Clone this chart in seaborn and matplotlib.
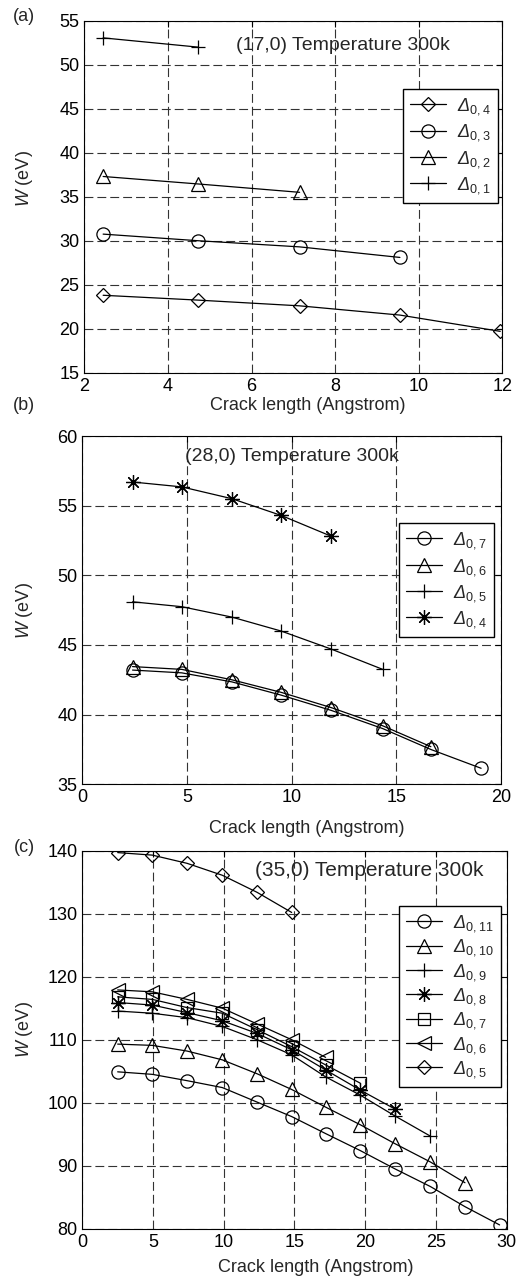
import matplotlib
matplotlib.use("Agg")
import matplotlib.pyplot as plt
import seaborn as sns

# panel (a): (17,0) tube
a_x = [2.45, 4.72, 7.15, 9.55, 11.95]
a_d04 = [23.8, 23.25, 22.6, 21.55, 19.7]
a_d03 = [30.75, 30.0, 29.3, 28.1]
a_d02 = [37.3, 36.45, 35.5]
a_d01 = [53.05, 52.0]

# panel (b): (28,0) tube
b_x = [2.4, 4.75, 7.15, 9.5, 11.9, 14.35, 16.65, 19.05]
b_d07 = [43.2, 43.0, 42.35, 41.4, 40.3, 39.0, 37.5, 36.15]
b_d06 = [43.45, 43.25, 42.5, 41.6, 40.5, 39.2, 37.7]
b_d05 = [48.1, 47.75, 47.0, 46.0, 44.7, 43.25]
b_d04 = [56.7, 56.35, 55.5, 54.3, 52.8]

# panel (c): (35,0) tube
c_x = [2.5, 4.95, 7.4, 9.9, 12.35, 14.8, 17.2, 19.65, 22.1, 24.6, 27.05, 29.5]
c_d011 = [104.9, 104.5, 103.5, 102.4, 100.1, 97.8, 95.1, 92.4, 89.5, 86.7, 83.5, 80.6]
c_d010 = [109.3, 109.1, 108.2, 106.8, 104.6, 102.1, 99.3, 96.5, 93.5, 90.6, 87.3]
c_d09 = [114.55, 114.2, 113.5, 112.1, 110.0, 107.6, 104.1, 101.2, 97.9, 94.7]
c_d08 = [115.9, 115.5, 114.3, 113.0, 111.0, 108.4, 105.2, 102.0, 99.0]
c_d07 = [116.8, 116.4, 115.1, 114.2, 111.6, 108.9, 106.0, 103.1]
c_d06 = [117.9, 117.6, 116.4, 115.0, 112.5, 110.0, 107.2]
c_d05 = [139.7, 139.3, 138.0, 136.1, 133.4, 130.2]

sns.set_style("white")
plt.rcParams['font.family'] = ['Liberation Sans', 'DejaVu Sans']
plt.rcParams['mathtext.fontset'] = 'custom'
plt.rcParams['mathtext.rm'] = 'Liberation Sans'
plt.rcParams['mathtext.it'] = 'Liberation Sans:italic'
plt.rcParams['mathtext.sf'] = 'Liberation Sans:italic'  # used for the slanted Delta
plt.rcParams['font.size'] = 13

ASTER = (8, 2, 0)
MS = {'D': 7, 'o': 9.5, '^': 9.5, '<': 9.5, '+': 10.5, 's': 8, ASTER: 10.5}
GRID_DASH = (0, (8, 3.6))


def lab(sub):
    return r'$\mathsf{\Delta}_{0,' + sub + '}$'


def panel(ax, xs, series, xlim, xticks, ylim, yticks, note, note_xy, note_fs,
          leg_anchor, leg_space, xlab_xy, ylab_xy):
    for ys, m, sub in series:
        sns.lineplot(x=xs[:len(ys)], y=ys, ax=ax, color='k', lw=0.9,
                     marker=m, ms=MS[m], mec='k', mfc='none', mew=0.9,
                     errorbar=None, label=lab(sub), legend=False)
    ax.set_xlim(*xlim)
    ax.set_ylim(*ylim)
    ax.set_xticks(xticks)
    ax.set_yticks(yticks)
    ax.grid(True, color='0.2', linestyle=GRID_DASH, linewidth=0.8)
    ax.tick_params(direction='in', top=True, right=True, length=4,
                   labelsize=13, colors='k')
    for s in ax.spines.values():
        s.set_color('k')
        s.set_linewidth(0.8)
    ax.text(note_xy[0], note_xy[1], note, ha='left', va='center', fontsize=note_fs)
    ax.set_xlabel('Crack length (Angstrom)', fontsize=13)
    ax.set_ylabel(r'$W$ (eV)', fontsize=13)
    ax.xaxis.set_label_coords(*xlab_xy)
    ax.yaxis.set_label_coords(*ylab_xy)
    ax.legend(loc='upper right', bbox_to_anchor=leg_anchor, borderaxespad=0,
              fancybox=False, edgecolor='k', framealpha=1, fontsize=13,
              labelspacing=leg_space, handlelength=2.0, handletextpad=0.6,
              borderpad=0.4)


fig = plt.figure(figsize=(5.31, 12.87), dpi=100)
ax_a = fig.add_axes([0.1588, 0.7104, 0.7872, 0.2735])
ax_b = fig.add_axes([0.1550, 0.3906, 0.7885, 0.2706])
ax_c = fig.add_axes([0.1550, 0.0453, 0.7992, 0.2937])

panel(ax_a, a_x,
      [(a_d04, 'D', '4'), (a_d03, 'o', '3'), (a_d02, '^', '2'), (a_d01, '+', '1')],
      (2, 12), range(2, 13, 2), (15, 55), range(15, 56, 5),
      '(17,0) Temperature 300k', (5.63, 52.2), 14,
      (0.99, 0.806), 0.3, (0.535, -0.069), (-0.118, 0.553))

panel(ax_b, b_x,
      [(b_d07, 'o', '7'), (b_d06, '^', '6'), (b_d05, '+', '5'), (b_d04, ASTER, '4')],
      (0, 20), range(0, 21, 5), (35, 60), range(35, 61, 5),
      '(28,0) Temperature 300k', (4.9, 58.5), 14,
      (0.983, 0.750), 0.3, (0.537, -0.1025), (-0.113, 0.498))

panel(ax_c, c_x,
      [(c_d011, 'o', '11'), (c_d010, '^', '10'), (c_d09, '+', '9'), (c_d08, ASTER, '8'),
       (c_d07, 's', '7'), (c_d06, '<', '6'), (c_d05, 'D', '5')],
      (0, 30), range(0, 31, 5), (80, 140), range(80, 141, 10),
      '(35,0) Temperature 300k', (12.2, 136.9), 15,
      (0.987, 0.854), 0.19, (0.550, -0.080), (-0.111, 0.528))

fig.text(24 / 531, 1 - 16.5 / 1287, '(a)', ha='center', va='center', fontsize=13)
fig.text(24 / 531, 1 - 405 / 1287, '(b)', ha='center', va='center', fontsize=13)
fig.text(24 / 531, 1 - 847 / 1287, '(c)', ha='center', va='center', fontsize=13)

fig.savefig('out.png', dpi=100)
